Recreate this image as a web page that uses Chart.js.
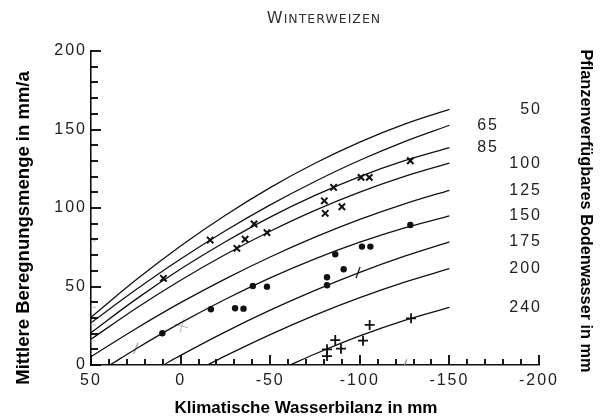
<!DOCTYPE html>
<html>
<head>
<meta charset="utf-8">
<script src="https://cdn.jsdelivr.net/npm/chart.js@4.4.1/dist/chart.umd.min.js"></script>
<style>
  html, body { margin: 0; padding: 0; background: #fff; }
  #wrap { width: 603px; height: 418px; }
</style>
</head>
<body>
<div id="wrap"><canvas id="chart"></canvas></div>
<script>
// curve names = pflanzenverfuegbares Bodenwasser (mm)
const curveNames = ['50', '65', '85', '100', '125', '150', '175', '200', '240']

// x = Klimatische Wasserbilanz (mm), y = Beregnungsmenge (mm/a)
const fullX = [50, 25, 0, -25, -50, -75, -100, -125, -150]
const c50Y  = [30.4, 54.1, 75.8, 95.4, 113.0, 128.5, 142.0, 153.4, 162.8]
const c65Y  = [26.9, 47.9, 67.5, 85.5, 102.0, 116.9, 130.4, 142.3, 152.7]
const c85Y  = [20.6, 41.8, 61.1, 78.5, 94.2, 108.0, 120.0, 130.1, 138.4]
const c100Y = [16.4, 36.0, 54.0, 70.4, 85.2, 98.5, 110.1, 120.1, 128.6]
const c125Y = [5.3, 23.1, 39.7, 54.9, 68.8, 81.4, 92.7, 102.6, 111.3]
const c150X = [39.4, 25, 0, -25, -50, -75, -100, -125, -150]
const c150Y = [0, 10.2, 26.8, 41.9, 55.5, 67.6, 78.2, 87.3, 95.0]
const c175X = [9.6, 0, -25, -50, -75, -100, -125, -150]
const c175Y = [0, 6.1, 21.1, 34.9, 47.5, 59.0, 69.3, 78.4]
const c200X = [-15, -25, -50, -75, -100, -125, -150]
const c200Y = [0, 5.8, 19.4, 31.8, 42.9, 52.8, 61.4]
const c240X = [-61, -75, -100, -125, -150]
const c240Y = [0, 7.0, 18.5, 28.4, 36.7]

// Messpunkte
const crossX = [9.6, -16.5, -31.4, -36, -41, -48.2, -80.2, -80.7, -85.4, -90, -100.7, -105.3, -128.2]
const crossY = [55.2, 79.6, 74.3, 80.1, 89.8, 84.3, 104.6, 96.6, 113.1, 100.8, 119.5, 119.5, 130.1]
const dotX = [10.2, -16.9, -30.4, -35.1, -40.3, -48.2, -81.7, -81.7, -91, -86.3, -101.2, -105.9, -128.2]
const dotY = [20.2, 35.5, 36.1, 35.9, 50.3, 49.9, 55.9, 50.8, 61, 70.5, 75.4, 75.4, 89.2]
const plusX = [-81.7, -81.7, -86.3, -89.5, -101.8, -105.5, -128.6]
const plusY = [10, 5.7, 15.9, 10.4, 15.5, 25.5, 29.7]

// pencil marks in the scan
const slashX = [-99, 25, -125]
const slashY = [58.8, 10.6, 0]
const greyPlusX = [-0.6]
const greyPlusY = [24.8]
const dashX = [50, 50, 50, 50]
const dashY = [79, 36.7, 25.5, 15.3]

// axis marks: labelled every 50, small marks every 10
const xTicks = [50, 0, -50, -100, -150, -200]
const yTicks = [0, 50, 100, 150, 200]
const minorStep = 10

const ink = '#111'

function pts(xs, ys) {
  return xs.map((x, i) => ({ x: x, y: ys[i] }))
}

const curves = [
  [fullX, c50Y], [fullX, c65Y], [fullX, c85Y], [fullX, c100Y], [fullX, c125Y],
  [c150X, c150Y], [c175X, c175Y], [c200X, c200Y], [c240X, c240Y]
]

const datasets = curves.map((c, i) => ({
  type: 'line',
  label: curveNames[i],
  data: pts(c[0], c[1]),
  borderColor: ink,
  borderWidth: 1.3,
  pointRadius: 0,
  cubicInterpolationMode: 'monotone',
  fill: false
}))

datasets.push(
  { type: 'scatter', label: 'x', data: pts(crossX, crossY), pointStyle: 'crossRot',
    radius: 4.5, borderColor: ink, borderWidth: 2 },
  { type: 'scatter', label: 'dot', data: pts(dotX, dotY), pointStyle: 'circle',
    radius: 3.2, backgroundColor: ink, borderColor: ink, borderWidth: 0 },
  { type: 'scatter', label: 'plus', data: pts(plusX, plusY), pointStyle: 'cross',
    radius: 5, borderColor: ink, borderWidth: 1.8 },
  { type: 'scatter', label: 'slash', data: pts(slashX, slashY), pointStyle: 'line',
    radius: 6, rotation: -70, borderWidth: 1.3,
    borderColor: ['#222', '#aaa', '#888'] },
  { type: 'scatter', label: 'greyplus', data: pts(greyPlusX, greyPlusY), pointStyle: 'cross',
    radius: 7, rotation: 15, borderColor: '#bbb', borderWidth: 1 },
  { type: 'scatter', label: 'dash', data: pts(dashX, dashY), pointStyle: 'line',
    radius: 5, borderColor: '#bbb', borderWidth: 1 }
)

const curveLabelX = [3, -40, -40, 3, 3, 3, 3, 3, 3]

// inward tick marks every 10 units, longer at the labelled values
function drawTickMarks(chart) {
  const ctx = chart.ctx
  const xs = chart.scales.x
  const ys = chart.scales.y
  const left = xs.getPixelForValue(50)
  const bottom = ys.getPixelForValue(0)
  ctx.save()
  ctx.setLineDash([])
  ctx.globalAlpha = 1
  ctx.strokeStyle = '#000'
  ctx.lineWidth = 1.8
  for (let v = 0; v <= 200; v += minorStep) {
    const py = Math.round(ys.getPixelForValue(v))
    const len = v % 50 === 0 ? 10 : 7
    ctx.beginPath()
    ctx.moveTo(left, py)
    ctx.lineTo(left + len, py)
    ctx.stroke()
  }
  for (let v = -200; v <= 50; v += minorStep) {
    const px = Math.round(xs.getPixelForValue(v))
    const len = v % 50 === 0 ? 10 : 6
    ctx.beginPath()
    ctx.moveTo(px, bottom)
    ctx.lineTo(px, bottom - len)
    ctx.stroke()
  }
  ctx.restore()
}

const decor = {
  id: 'decor',
  beforeDraw(chart) {
    chart.ctx.letterSpacing = '2px'
  },
  afterDraw(chart) {
    const ctx = chart.ctx
    const ys = chart.scales.y
    const area = chart.chartArea

    drawTickMarks(chart)

    ctx.save()
    // curve names at the line ends
    ctx.fillStyle = '#222'
    ctx.font = '16px "Liberation Sans", Arial, sans-serif'
    ctx.letterSpacing = '2px'
    ctx.textAlign = 'right'
    ctx.textBaseline = 'middle'
    curves.forEach((c, i) => {
      const last = c[1][c[1].length - 1]
      ctx.fillText(curveNames[i], area.right + curveLabelX[i], ys.getPixelForValue(last))
    })

    // title in small caps
    ctx.fillStyle = '#333'
    ctx.letterSpacing = '1px'
    ctx.textAlign = 'left'
    ctx.textBaseline = 'alphabetic'
    const big = '16px "DejaVu Sans", sans-serif'
    const small = '12.5px "DejaVu Sans", sans-serif'
    ctx.font = big
    const wBig = ctx.measureText('W').width
    ctx.font = small
    const wSmall = ctx.measureText('INTERWEIZEN').width
    let tx = 324 - (wBig + wSmall) / 2
    ctx.font = big
    ctx.fillText('W', tx, 23)
    ctx.font = small
    ctx.fillText('INTERWEIZEN', tx + wBig, 23)

    // axis titles
    ctx.fillStyle = '#000'
    ctx.letterSpacing = '0px'
    ctx.textAlign = 'center'
    ctx.textBaseline = 'middle'
    ctx.font = 'bold 17px "Liberation Sans", Arial, sans-serif'
    ctx.fillText('Klimatische Wasserbilanz in mm', 306, 408)

    ctx.save()
    ctx.translate(24, 228)
    ctx.rotate(-Math.PI / 2)
    ctx.font = 'bold 18.5px "Liberation Sans", Arial, sans-serif'
    ctx.fillText('Mittlere Beregnungsmenge in mm/a', 0, 0)
    ctx.restore()

    ctx.save()
    ctx.translate(585, 211)
    ctx.rotate(Math.PI / 2)
    ctx.font = 'bold 16.3px "Liberation Sans", Arial, sans-serif'
    ctx.fillText('Pflanzenverfügbares Bodenwasser in mm', 0, 0)
    ctx.restore()

    ctx.restore()
  }
}

const tickFont = { family: '"Liberation Sans", Arial, sans-serif', size: 16 }

new Chart(document.getElementById('chart'), {
  data: { datasets: datasets },
  options: {
    responsive: true,
    maintainAspectRatio: false,
    animation: false,
    events: [],
    layout: { padding: { top: 51, right: 64, left: 0, bottom: 0 } },
    plugins: { legend: { display: false }, tooltip: { enabled: false }, title: { display: false } },
    scales: {
      x: {
        type: 'linear',
        min: -200,
        max: 50,
        reverse: true,
        afterFit: s => { s.height = 53 },
        afterBuildTicks: s => { s.ticks = xTicks.map(v => ({ value: v })) },
        ticks: { color: '#222', font: tickFont, padding: 6, maxRotation: 0,
                 callback: v => String(v) },
        grid: { drawOnChartArea: false, drawTicks: false },
        border: { color: ink, width: 1.6 }
      },
      y: {
        type: 'linear',
        min: 0,
        max: 200,
        afterFit: s => { s.width = 91 },
        afterBuildTicks: s => { s.ticks = yTicks.map(v => ({ value: v })) },
        ticks: { color: '#222', font: tickFont, padding: 4, callback: v => String(v) },
        grid: { drawOnChartArea: false, drawTicks: false },
        border: { color: ink, width: 1.6 }
      }
    }
  },
  plugins: [decor]
})
</script>
</body>
</html>
